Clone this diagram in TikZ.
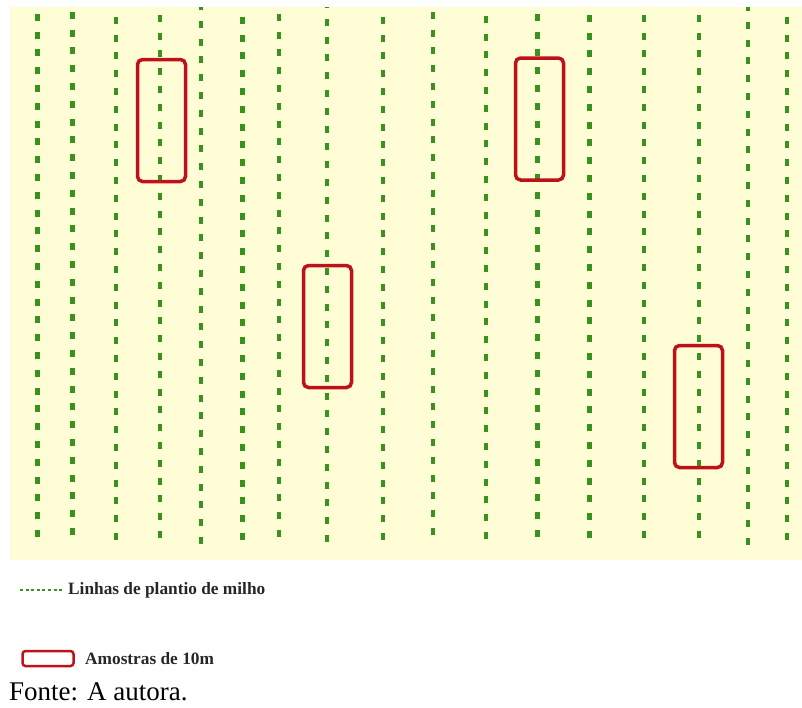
\documentclass[tikz,border=0pt]{standalone}
\usepackage{fontspec}
\setmainfont{Liberation Serif}
\definecolor{field}{RGB}{255,253,214}
\definecolor{corn}{RGB}{58,146,30}
\definecolor{samp}{RGB}{190,18,26}
\begin{document}
\begin{tikzpicture}[x=1pt,y=-1pt,
  cornrow/.style={draw=corn, line width=4.5pt, dash pattern=on 7pt off 10.8pt},
  sample/.style={draw=samp, line width=3.5pt, rounded corners=5pt, inner sep=0pt, minimum width=48pt, minimum height=122pt},
  legtext/.style={anchor=west, inner sep=0pt, font=\fontsize{17.3}{19}\selectfont\bfseries, text=black!85}]
\useasboundingbox (0,0) rectangle (802,707);
\fill[field] (10,7) rectangle (802,560);
\begin{scope}
\clip (10,7) rectangle (802,560);
\foreach \x/\yb in {37.5/537,72.5/535,116/540,160/538,201/544,242.5/540,279/537,327/542,383/540,433/535,486/539,537.5/537,589.5/538,644/538,699/538,748/545,787/540}
  \draw[cornrow] (\x,\yb) -- (\x,0);
\end{scope}
\node[sample] (s1) at (161.5,120.5) {};
\node[sample] (s2) at (539.5,119) {};
\node[sample] (s3) at (327.5,326.5) {};
\node[sample] (s4) at (698.5,406.5) {};
% legend
\coordinate (la) at (20,590);
\coordinate (lb) at (62,590);
\draw[draw=corn, line width=1.5pt, dash pattern=on 3pt off 2.6pt] (la) -- (lb);
\node[legtext] (t1) at (68,590) {Linhas de plantio de milho};
\node[draw=samp, line width=2.5pt, rounded corners=3pt, minimum width=51pt, minimum height=15pt, inner sep=0pt] (lr) at (48,658.5) {};
\node[legtext] (t2) at (85,658.5) {Amostras de 10m};
\node[anchor=base west, inner sep=0pt, font=\fontsize{27}{30}\selectfont] (src) at (9,700) {Fonte: A autora.};
\end{tikzpicture}
\end{document}
